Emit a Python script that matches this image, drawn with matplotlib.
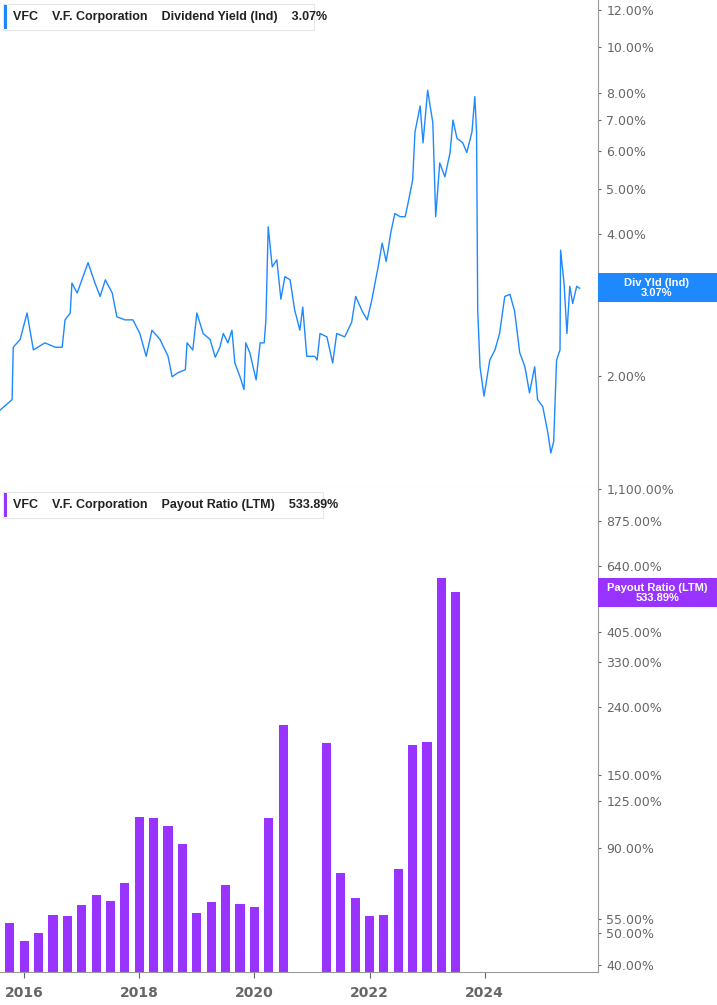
import numpy as np
import matplotlib.pyplot as plt
from matplotlib.ticker import FixedLocator, NullLocator, FixedFormatter

# Dividend yield (Ind), %, decimal years
yld_years = [2015.58, 2015.79, 2015.81, 2015.93, 2016.05, 2016.16, 2016.36, 2016.54, 2016.66,
             2016.71, 2016.80, 2016.83, 2016.92, 2017.11, 2017.23, 2017.32, 2017.41, 2017.53,
             2017.61, 2017.75, 2017.89, 2018.01, 2018.12, 2018.22, 2018.36, 2018.50, 2018.57,
             2018.67, 2018.80, 2018.83, 2018.93, 2019.00, 2019.11, 2019.23, 2019.32, 2019.40,
             2019.46, 2019.54, 2019.61, 2019.66, 2019.75, 2019.82, 2019.85, 2019.92, 2020.03,
             2020.10, 2020.17, 2020.20, 2020.24, 2020.31, 2020.39, 2020.46, 2020.53, 2020.62,
             2020.70, 2020.79, 2020.84, 2020.91, 2021.05, 2021.09, 2021.14, 2021.26, 2021.36,
             2021.43, 2021.57, 2021.69, 2021.76, 2021.87, 2021.96, 2022.04, 2022.15, 2022.22,
             2022.29, 2022.37, 2022.44, 2022.53, 2022.62, 2022.67, 2022.75, 2022.79, 2022.88,
             2022.93, 2023.01, 2023.10, 2023.15, 2023.22, 2023.31, 2023.40, 2023.45, 2023.52,
             2023.62, 2023.69, 2023.78, 2023.83, 2023.86, 2023.88, 2023.92, 2023.99, 2024.09,
             2024.18, 2024.26, 2024.35, 2024.44, 2024.52, 2024.61, 2024.70, 2024.78, 2024.87,
             2024.92, 2025.01, 2025.10, 2025.15, 2025.20, 2025.25, 2025.31, 2025.32, 2025.38,
             2025.43, 2025.48, 2025.53, 2025.60, 2025.65]
yld_vals = [1.69, 1.78, 2.30, 2.39, 2.72, 2.27, 2.35, 2.30, 2.30,
            2.63, 2.72, 3.15, 3.00, 3.48, 3.15, 2.95, 3.20, 3.00,
            2.67, 2.63, 2.63, 2.46, 2.20, 2.50, 2.39, 2.20, 1.99,
            2.03, 2.06, 2.35, 2.27, 2.72, 2.46, 2.39, 2.19, 2.30,
            2.46, 2.35, 2.50, 2.13, 1.99, 1.87, 2.35, 2.24, 1.96,
            2.35, 2.35, 2.63, 4.15, 3.41, 3.53, 2.91, 3.25, 3.20,
            2.76, 2.50, 2.80, 2.20, 2.20, 2.16, 2.46, 2.42, 2.13,
            2.46, 2.42, 2.60, 2.95, 2.75, 2.63, 2.90, 3.41, 3.83,
            3.50, 4.03, 4.43, 4.36, 4.36, 4.66, 5.22, 6.60, 7.50,
            6.26, 8.10, 6.91, 4.36, 5.67, 5.30, 5.97, 7.00, 6.40,
            6.26, 5.97, 6.60, 7.85, 6.60, 2.76, 2.09, 1.81, 2.16,
            2.27, 2.46, 2.95, 2.98, 2.75, 2.24, 2.09, 1.84, 2.09,
            1.78, 1.72, 1.51, 1.37, 1.45, 2.16, 2.27, 3.70, 3.15,
            2.46, 3.10, 2.85, 3.10, 3.07]

# Payout ratio (LTM), % -- quarterly
pay_years = [2015.75, 2016.00, 2016.25, 2016.50, 2016.75, 2017.00, 2017.25, 2017.50,
             2017.75, 2018.00, 2018.25, 2018.50, 2018.75, 2019.00, 2019.25, 2019.50,
             2019.75, 2020.00, 2020.25, 2020.50,
             2021.25, 2021.50, 2021.75, 2022.00, 2022.25, 2022.50, 2022.75, 2023.00,
             2023.25, 2023.50]
pay_vals = [52.5, 46.3, 49.0, 55.8, 55.3, 59.9, 64.2, 61.6,
            69.8, 111.0, 110.5, 104.4, 91.6, 56.3, 61.1, 68.8,
            60.3, 59.0, 110.5, 212.0,
            186.0, 74.8, 62.8, 55.3, 55.8, 76.9, 183.6, 187.5,
            590.0, 533.89]

yld_ticks = [2, 4, 5, 6, 7, 8, 10, 12]
pay_ticks = [40, 50, 55, 90, 125, 150, 240, 330, 405, 640, 875, 1100]
year_ticks = [2016, 2018, 2020, 2022, 2024]

BLUE = '#1e88ff'
PURPLE = '#9933ff'
GREY = '#666666'
XMIN, XMAX = 2015.58, 2025.97

fig = plt.figure(figsize=(7.17, 10.05), dpi=100)
W, H = 717, 1005
ax1 = fig.add_axes([0, 1 - 487 / H, 598 / W, 487 / H])
ax2 = fig.add_axes([0, 1 - 972 / H, 598 / W, (972 - 487) / H])

for ax in (ax1, ax2):
    ax.set_xlim(XMIN, XMAX)
    ax.set_yscale('log')
    for s in ('left', 'top'):
        ax.spines[s].set_visible(False)
    ax.spines['right'].set_color('#999999')
    ax.yaxis.tick_right()
    ax.yaxis.set_minor_locator(NullLocator())
    ax.tick_params(axis='y', colors=GREY, labelsize=9, length=2, pad=4)

# top panel
ax1.plot(yld_years, yld_vals, color=BLUE, lw=1)
ax1.set_ylim(1.16, 12.6)
ax1.yaxis.set_major_locator(FixedLocator(yld_ticks))
ax1.yaxis.set_major_formatter(FixedFormatter(['%.2f%%' % t for t in yld_ticks]))
ax1.spines['bottom'].set_color('#cccccc')
ax1.set_xticks([])

# bottom panel
ax2.bar(pay_years, pay_vals, width=0.16, color=PURPLE, bottom=1)
ax2.set_ylim(38.1, 1112)
ax2.yaxis.set_major_locator(FixedLocator(pay_ticks))
ax2.yaxis.set_major_formatter(FixedFormatter(['{:,.2f}%'.format(t) for t in pay_ticks]))
ax2.spines['bottom'].set_color('#999999')
ax2.set_xticks(year_ticks)
ax2.set_xticklabels([str(y) for y in year_ticks])
ax2.tick_params(axis='x', colors=GREY, labelsize=10, length=4, pad=6)
for lab in ax2.get_xticklabels():
    lab.set_fontweight('bold')
    lab.set_color(GREY)

# legend boxes
def legend_box(y_px, text, color, w_px):
    fig.patches.append(plt.Rectangle((3 / W, 1 - (y_px + 13) / H), w_px / W, 26 / H,
                                     transform=fig.transFigure, facecolor='white',
                                     edgecolor='#e6e6e6', lw=0.8))
    fig.patches.append(plt.Rectangle((4 / W, 1 - (y_px + 12) / H), 3 / W, 24 / H,
                                     transform=fig.transFigure, facecolor=color, lw=0))
    fig.text(13 / W, 1 - y_px / H, text, fontsize=9, fontweight='bold',
             family='Liberation Sans', color='#222222', va='center', ha='left')

legend_box(17, 'VFC    V.F. Corporation    Dividend Yield (Ind)    3.07%', BLUE, 311)
legend_box(505, 'VFC    V.F. Corporation    Payout Ratio (LTM)    533.89%', PURPLE, 320)

# right-side value labels
def value_tag(y0, y1, text, color):
    fig.patches.append(plt.Rectangle((598 / W, 1 - y1 / H), 119 / W, (y1 - y0) / H,
                                     transform=fig.transFigure, facecolor=color, lw=0))
    fig.text(657 / W, 1 - (y0 + y1) / 2 / H, text, fontsize=8, fontweight='bold',
             family='Liberation Sans', color='white', ha='center', va='center',
             linespacing=1.0)

value_tag(273, 302, 'Div Yld (Ind)\n3.07%', BLUE)
value_tag(578, 607, 'Payout Ratio (LTM)\n533.89%', PURPLE)

fig.savefig('out.png', dpi=100)
